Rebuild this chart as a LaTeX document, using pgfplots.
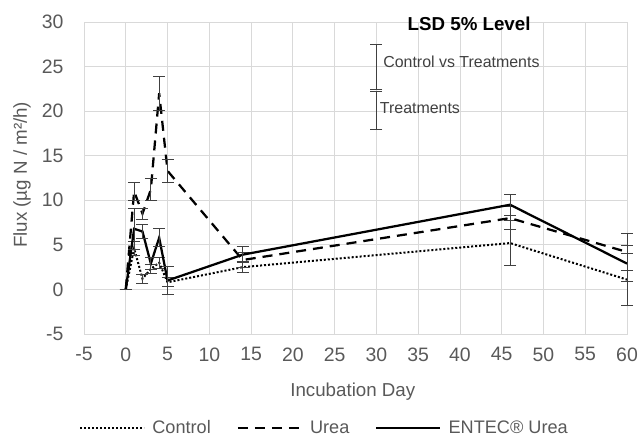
\documentclass[border=0pt]{standalone}
\usepackage{fontspec}
\setmainfont{Liberation Sans}
\usepackage{pgfplots}
\pgfplotsset{compat=1.18}
\definecolor{gridgray}{HTML}{D9D9D9}
\definecolor{txtgray}{HTML}{595959}
\definecolor{errgray}{HTML}{404040}
\newcommand{\Ft}{\fontsize{19.5}{22}\selectfont}
\newcommand{\F}{\fontsize{18.8}{21}\selectfont}
\newcommand{\Fl}{\fontsize{18.2}{21}\selectfont}
\newcommand{\Fs}{\fontsize{16}{19}\selectfont}

\pgfplotstableread{
x y e
0 0 0
1 4.6 0.8
2 1.2 0.5
3 2.3 0.5
4 3.0 0.6
5 0.8 0.5
14 2.5 0.6
46 5.2 2.5
60 1.1 2.9
}\control
\pgfplotstableread{
x y e
0 0 0
1 11.0 1.0
2 8.5 0.6
3 11.2 1.2
4 22.0 1.9
5 13.3 1.3
14 3.3 0.8
46 8.0 1.3
60 4.2 2.1
}\urea
\pgfplotstableread{
x y e
0 0 0
1 6.8 2.3
2 6.5 0.8
3 2.9 0.7
4 5.8 1.0
5 1.0 1.6
14 3.9 0.9
46 9.5 1.2
60 2.9 2.0
}\entec

\begin{document}
\begin{tikzpicture}[x=1bp,y=1bp]
\path[use as bounding box] (0,0) rectangle (639,437);
\begin{axis}[
  at={(84bp,103bp)}, anchor=south west,
  scale only axis, width=543bp, height=312bp,
  xmin=-5, xmax=60, ymin=-5, ymax=30,
  xtick={-5,0,...,60}, ytick={-5,0,...,30},
  grid=major, major grid style={draw=gridgray, line width=0.75bp},
  axis line style={draw=gridgray, line width=0.75bp},
  major tick length=0pt, tick style={draw=none},
  /pgf/number format/assume math mode=true,
  ticklabel style={font=\Ft, text=txtgray},
  yticklabel style={xshift=-17bp},
  xticklabel style={yshift=-10bp},
  label style={font=\F, text=txtgray},
  xlabel={Incubation Day},
  ylabel={Flux (µg N / m²/h)},
  xlabel style={at={(axis description cs:0.495,-0.186)}, anchor=center},
  ylabel style={at={(axis description cs:-0.114,0.51)}, anchor=center},
  legend columns=3,
  legend style={at={(0.443,-0.301)}, anchor=center, draw=none, fill=none,
    font=\Fl, text=txtgray,
    /tikz/every even column/.append style={column sep=24bp}},
  legend image code/.code={\draw[#1] (0bp,0bp) -- (64bp,0bp); \path (69bp,0bp);},
  error bars/y dir=both, error bars/y explicit,
  error bars/error bar style={draw=errgray, solid, line width=0.9bp},
  error bars/error mark options={draw=errgray, solid, rotate=90, mark size=6bp, line width=0.9bp},
  clip=false,
]
\addplot[black, line width=2bp, dash pattern=on 2bp off 2bp, mark=none]
  table[x=x, y=y, y error=e] {\control};
\addlegendentry{Control}
\addplot[black, line width=2.25bp, dash pattern=on 10bp off 7bp, mark=none]
  table[x=x, y=y, y error=e] {\urea};
\addlegendentry{Urea}
\addplot[black, line width=2.25bp, mark=none]
  table[x=x, y=y, y error=e] {\entec};
\addlegendentry{ENTEC® Urea}

\addplot[errgray, mark=none, forget plot] coordinates {(30,24.95) +- (0,2.55)};
\addplot[errgray, mark=none, forget plot] coordinates {(30,20.1) +- (0,2.1)};

\node[anchor=center, font=\bfseries\F, text=black] at (axis cs:41.1,29.8) {LSD 5\% Level};
\node[anchor=west, inner sep=0pt, font=\Fs, text=errgray] at (axis cs:30.8,25.5) {Control vs Treatments};
\node[anchor=west, inner sep=0pt, font=\Fs, text=errgray] at (axis cs:30.4,20.35) {Treatments};
\end{axis}
\end{tikzpicture}
\end{document}
